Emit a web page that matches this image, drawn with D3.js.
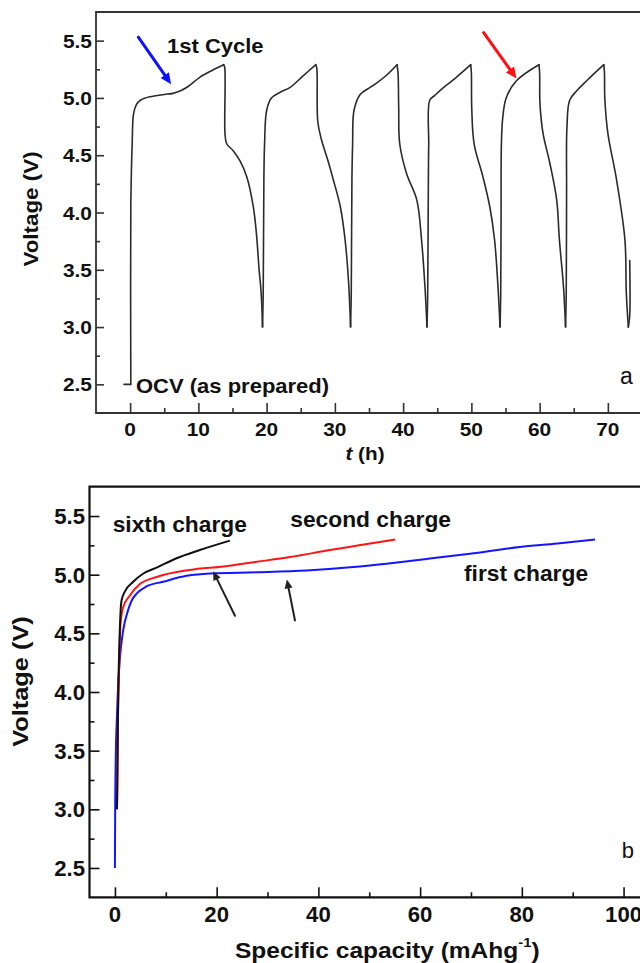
<!DOCTYPE html>
<html>
<head>
<meta charset="utf-8">
<script src="https://cdn.jsdelivr.net/npm/d3@7"></script>
<style>
  html, body { margin: 0; padding: 0; background: #fff; }
  svg { display: block; }
</style>
</head>
<body>
<svg id="fig" width="640" height="963"></svg>
<script>
// ---- (a) voltage vs. time during galvanostatic cycling ----
const cycleTime = [
  -0.9, 0.1, 0.1, 0.3, 0.5, 0.9, 1.5, 2.9, 5.0, 6.3, 7.3, 8.5, 10.2, 12.0, 13.7,
  13.85, 13.9, 14.15, 15.1, 16.1, 17.1, 18.05, 18.5, 18.9, 19.2, 19.4,
  19.5, 19.6, 19.7, 20.0, 20.7, 22.0, 23.4, 25.3, 27.2,
  27.35, 27.5, 28.06, 29.0, 29.8, 30.8, 31.5, 32.0, 32.3,
  32.4, 32.5, 32.6, 32.8, 33.7, 35.1, 35.9, 37.6, 39.1,
  39.25, 39.35, 39.5, 40.5, 42.0, 42.7, 43.2, 43.5,
  43.6, 43.7, 43.75, 43.9, 44.6, 45.9, 47.8, 49.9,
  50.0, 50.05, 50.4, 51.7, 52.7, 53.4, 53.9, 54.2,
  54.3, 54.35, 54.4, 54.6, 55.1, 56.6, 59.9,
  60.0, 60.05, 60.5, 61.5, 62.5, 62.9, 63.5, 63.8,
  63.9, 63.95, 64.0, 64.4, 65.4, 66.9, 69.4,
  69.5, 69.55, 70.0, 71.2, 72.5, 72.7, 73.0, 73.2, 73.2
];
const cycleVoltage = [
  2.5, 2.5, 4.05, 4.6, 4.86, 4.94, 4.98, 5.01, 5.03, 5.04, 5.06, 5.10, 5.18, 5.24, 5.29,
  5.27, 4.69, 4.60, 4.54, 4.45, 4.31, 4.05, 3.82, 3.5, 3.3, 3.0,
  3.3, 4.3, 4.6, 4.89, 5.00, 5.05, 5.09, 5.19, 5.29,
  5.26, 4.79, 4.63, 4.45, 4.28, 4.05, 3.76, 3.4, 3.0,
  3.3, 4.3, 4.6, 4.89, 5.03, 5.09, 5.12, 5.20, 5.29,
  5.22, 4.92, 4.60, 4.34, 4.11, 3.76, 3.35, 3.0,
  3.3, 4.3, 4.6, 4.98, 5.02, 5.09, 5.18, 5.29,
  5.22, 4.92, 4.60, 4.31, 4.05, 3.76, 3.35, 3.0,
  3.3, 4.0, 4.6, 4.83, 5.00, 5.15, 5.29,
  5.22, 4.95, 4.69, 4.43, 4.11, 3.76, 3.35, 3.0,
  3.3, 4.2, 4.74, 4.98, 5.06, 5.15, 5.29,
  5.22, 5.00, 4.69, 4.31, 3.76, 3.3, 3.0, 3.1, 3.58
];
const timeTicks = [0, 10, 20, 30, 40, 50, 60, 70];
const timeMinorTicks = [5, 15, 25, 35, 45, 55, 65];
const voltageTicks = [2.5, 3.0, 3.5, 4.0, 4.5, 5.0, 5.5];
const voltageMinorTicks = [2.75, 3.25, 3.75, 4.25, 4.75, 5.25];

// ---- (b) charge curves vs. specific capacity ----
const firstChargeCapacity = [0, 0.05, 0.15, 0.4, 0.65, 1.0, 1.6, 2.6, 3.3, 4.3, 6.2, 9.5, 14.1, 18.7, 27.9, 37.7, 46.9, 53.4, 61.9, 69.8, 79.6, 87.0, 94.4];
const firstChargeVoltage  = [2.5, 3.0, 3.4, 3.8, 4.07, 4.3, 4.52, 4.70, 4.78, 4.84, 4.90, 4.94, 4.99, 5.01, 5.02, 5.035, 5.065, 5.094, 5.137, 5.179, 5.236, 5.265, 5.30];
const secondChargeCapacity = [0.4, 0.5, 0.55, 0.7, 0.9, 1.1, 1.6, 2.9, 4.9, 8.2, 14.7, 21.3, 27.9, 34.4, 42.3, 48.0, 55.1];
const secondChargeVoltage  = [3.0, 3.25, 3.6, 4.0, 4.35, 4.58, 4.72, 4.82, 4.92, 4.98, 5.04, 5.07, 5.11, 5.15, 5.21, 5.25, 5.30];
const sixthChargeCapacity = [0.4, 0.5, 0.6, 0.7, 0.9, 1.1, 1.3, 2.0, 3.6, 5.6, 8.2, 12.1, 16.7, 22.6];
const sixthChargeVoltage  = [3.0, 3.4, 3.8, 4.1, 4.45, 4.68, 4.78, 4.86, 4.94, 5.01, 5.06, 5.14, 5.21, 5.29];
const capacityTicks = [0, 20, 40, 60, 80, 100];
const capacityMinorTicks = [10, 30, 50, 70, 90];

const svg = d3.select("#fig");
const FONT = "'Liberation Sans', Arial, Helvetica, sans-serif";
const INK = "#111";

const zip = (xs, ys) => xs.map((x, i) => [x, ys[i]]);

// text helper: position, optional rotation and horizontal stretch
function label(g, x, y, s, o = {}) {
  const t = g.append("text")
    .attr("transform", `translate(${x},${y}) rotate(${o.rotate || 0}) scale(${o.sx || 1},1)`)
    .attr("font-family", FONT)
    .attr("font-size", o.size || 20)
    .attr("font-weight", o.weight || "bold")
    .attr("text-anchor", o.anchor || "start")
    .attr("fill", o.fill || INK);
  if (s !== null) t.text(s);
  return t;
}

// straight arrow with a filled head at the tip
function arrow(g, x0, y0, x1, y1, color, width, headLen, headHalf) {
  const dx = x1 - x0, dy = y1 - y0, L = Math.hypot(dx, dy);
  const ux = dx / L, uy = dy / L;
  const bx = x1 - ux * headLen, by = y1 - uy * headLen;
  g.append("line")
    .attr("x1", x0).attr("y1", y0).attr("x2", bx + ux).attr("y2", by + uy)
    .attr("stroke", color).attr("stroke-width", width).attr("stroke-linecap", "round");
  g.append("path")
    .attr("d", `M${x1},${y1}L${bx - uy * headHalf},${by + ux * headHalf}L${bx + uy * headHalf},${by - ux * headHalf}Z`)
    .attr("fill", color);
}

function drawTicks(g, axis, ticks, len, color) {
  g.append("g").call(axis.tickValues(ticks).tickSize(-len).tickFormat(""))
    .call(s => s.select(".domain").remove())
    .call(s => s.selectAll("line").attr("stroke", color).attr("stroke-width", 1.6));
}

// split a trace at its turning points (peaks / troughs) so corners stay sharp
function splitAtTurns(pts) {
  const segs = [];
  let cur = [pts[0]];
  for (let i = 1; i < pts.length; i++) {
    cur.push(pts[i]);
    const prev = pts[i - 1][1], v = pts[i][1], next = i + 1 < pts.length ? pts[i + 1][1] : null;
    const turn = next !== null && ((v >= prev && v > next) || (v <= prev && v < next));
    if (turn) { segs.push(cur); cur = [pts[i]]; }
  }
  if (cur.length > 1) segs.push(cur);
  return segs;
}

// ================= panel (a) =================
{
  const left = 96, top = 12, bottom = 413, right = 642;
  const x = d3.scaleLinear().domain([-5, 75]).range([left, right]);
  const y = d3.scaleLinear().domain([2.25, 5.75]).range([bottom, top]);
  const g = svg.append("g");
  const frameColor = "#333";

  // frame (the right edge lies just past the canvas)
  g.append("path")
    .attr("d", `M${right},${top}H${left}V${bottom}H${right}`)
    .attr("fill", "none").attr("stroke", frameColor).attr("stroke-width", 1.8);

  const gx = g.append("g").attr("transform", `translate(0,${bottom})`);
  drawTicks(gx, d3.axisBottom(x), timeTicks, 10, frameColor);
  drawTicks(gx, d3.axisBottom(x), timeMinorTicks, 5, frameColor);
  const gy = g.append("g").attr("transform", `translate(${left},0)`);
  drawTicks(gy, d3.axisLeft(y), voltageTicks, 8, frameColor);
  drawTicks(gy, d3.axisLeft(y), voltageMinorTicks, 4, frameColor);

  timeTicks.forEach(v => label(g, x(v), 436, String(v), { size: 19, sx: 1.1, anchor: "middle" }));
  voltageTicks.forEach(v => label(g, left - 4, y(v) + 7, v.toFixed(1), { size: 19, sx: 1.1, anchor: "end" }));

  // voltage trace: smooth between turning points, sharp at them
  const trace = d3.line().x(d => x(d[0])).y(d => y(d[1])).curve(d3.curveCatmullRom.alpha(0.5));
  g.append("g").selectAll("path")
    .data(splitAtTurns(zip(cycleTime, cycleVoltage)))
    .join("path")
    .attr("d", trace)
    .attr("fill", "none").attr("stroke", "#2b2b2b").attr("stroke-width", 1.6)
    .attr("stroke-linejoin", "round").attr("stroke-linecap", "round");

  // annotations
  label(g, 167, 53, "1st Cycle", { size: 20, sx: 1.1 });
  label(g, 136, 393, "OCV (as prepared)", { size: 20, sx: 1.1 });
  label(g, 620, 384, "a", { size: 23, weight: "normal" });
  arrow(g, x(1.2), y(5.53), x(6.0), y(5.12), "#1010ff", 3, 11, 5);
  arrow(g, x(51.8), y(5.57), x(56.6), y(5.17), "#ff1010", 3, 11, 5);

  // axis titles
  const xt = label(g, 365, 460, null, { size: 18, sx: 1.15, anchor: "middle" });
  xt.append("tspan").attr("font-style", "italic").text("t");
  xt.append("tspan").text(" (h)");
  label(g, 37.5, 209, "Voltage (V)", { size: 20, sx: 1.12, anchor: "middle", rotate: -90 });
}

// ================= panel (b) =================
{
  const left = 89.5, top = 486.7, bottom = 897.3, right = 649;
  const x = d3.scaleLinear().domain([-5, 105]).range([left, right]);
  const y = d3.scaleLinear().domain([2.25, 5.75]).range([bottom, top]);
  const g = svg.append("g");
  const frameColor = "#111";

  g.append("path")
    .attr("d", `M${right},${top}H${left}V${bottom}H${right}`)
    .attr("fill", "none").attr("stroke", frameColor).attr("stroke-width", 2.2);

  const gx = g.append("g").attr("transform", `translate(0,${bottom})`);
  drawTicks(gx, d3.axisBottom(x), capacityTicks, 10, frameColor);
  drawTicks(gx, d3.axisBottom(x), capacityMinorTicks, 5, frameColor);
  const gy = g.append("g").attr("transform", `translate(${left},0)`);
  drawTicks(gy, d3.axisLeft(y), voltageTicks, 10, frameColor);
  drawTicks(gy, d3.axisLeft(y), voltageMinorTicks, 5, frameColor);

  capacityTicks.forEach(v => label(g, x(v), 922, String(v), { size: 21.5, sx: 1.03, anchor: "middle" }));
  voltageTicks.forEach(v => label(g, left - 4.5, y(v) + 8, v.toFixed(1), { size: 21.5, sx: 1.03, anchor: "end" }));

  const line = d3.line().x(d => x(d[0])).y(d => y(d[1])).curve(d3.curveMonotoneX);
  const curves = [
    { cap: firstChargeCapacity, v: firstChargeVoltage, color: "#1515ff" },
    { cap: secondChargeCapacity, v: secondChargeVoltage, color: "#ff1515" },
    { cap: sixthChargeCapacity, v: sixthChargeVoltage, color: "#111111" }
  ];
  curves.forEach(c => {
    g.append("path")
      .datum(zip(c.cap, c.v))
      .attr("d", line)
      .attr("fill", "none").attr("stroke", c.color).attr("stroke-width", 2)
      .attr("stroke-linejoin", "round");
  });

  label(g, 112.7, 531.7, "sixth charge", { size: 21.5, sx: 1.06 });
  label(g, 451, 527.3, "second charge", { size: 21.5, sx: 1.06, anchor: "end" });
  label(g, 464, 580.7, "first charge", { size: 21.5, sx: 1.06 });
  label(g, 621.7, 858.3, "b", { size: 22, weight: "normal" });

  arrow(g, x(23.6), y(4.65), x(19.3), y(5.03), "#222", 2, 9, 4);
  arrow(g, x(35.4), y(4.61), x(33.8), y(4.96), "#222", 2, 9, 4);

  const xt = label(g, 235, 958, null, { size: 21.5, sx: 1.14 });
  xt.append("tspan").text("Specific capacity (mAhg");
  xt.append("tspan").attr("font-size", 13).attr("dy", -11).text("-1");
  xt.append("tspan").attr("dy", 11).text(")");
  label(g, 28, 681.5, "Voltage (V)", { size: 21.5, sx: 1.18, anchor: "middle", rotate: -90 });
}
</script>
</body>
</html>
